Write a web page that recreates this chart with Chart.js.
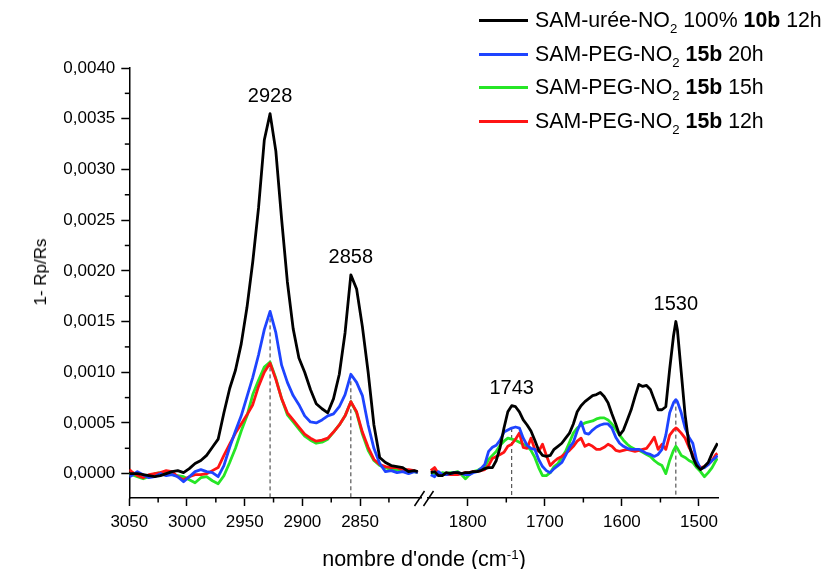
<!DOCTYPE html>
<html>
<head>
<meta charset="utf-8">
<script src="https://cdn.jsdelivr.net/npm/chart.js@4.4.1/dist/chart.umd.min.js"></script>
<style>
  body { margin: 0; background: #fff; }
  #wrap { position: relative; width: 824px; height: 569px; font-family: "Liberation Sans", Arial, sans-serif; color: #000; overflow: hidden; }
  canvas { position: absolute; left: 0; top: 0; }
  #legend { position: absolute; left: 479px; top: 4px; }
  .row { display: flex; align-items: center; height: 33.5px; font-size: 21.3px; white-space: nowrap; }
  .swatch { width: 49px; height: 3px; margin-right: 7px; }
  sub { font-size: 0.62em; vertical-align: -0.45em; line-height: 0; }
  sup { font-size: 0.62em; vertical-align: 0.55em; line-height: 0; }
  #xtitle { position: absolute; left: 0; width: 848px; text-align: center; top: 547px; font-size: 21.5px; }
  #ytitle { position: absolute; left: 41px; top: 272px; font-size: 17px; white-space: nowrap; transform: translate(-50%, -50%) rotate(-90deg); }
</style>
</head>
<body>
<div id="wrap">
  <canvas id="leftChart" width="824" height="569"></canvas>
  <canvas id="rightChart" width="824" height="569"></canvas>
  <div id="legend"></div>
  <div id="ytitle">1- Rp/Rs</div>
  <div id="xtitle">nombre d'onde (cm<sup>-1</sup>)</div>
</div>
<script>
// series labels / colours (legend order)
var seriesLabels = [
  'SAM-urée-NO<sub>2</sub> 100% <b>10b</b> 12h',
  'SAM-PEG-NO<sub>2</sub> <b>15b</b> 20h',
  'SAM-PEG-NO<sub>2</sub> <b>15b</b> 15h',
  'SAM-PEG-NO<sub>2</sub> <b>15b</b> 12h'
];
var seriesColors = ['#000000', '#1e44ff', '#26e626', '#ff1414'];
var seriesOrder = [0, 1, 3, 2]; // red drawn above green

// wavenumbers (cm-1), high-frequency part
var wnLeft = [3050, 3048, 3043, 3038, 3033, 3028, 3023, 3018, 3013, 3008, 3003, 2998, 2993, 2988, 2983, 2978, 2973, 2968, 2963, 2958, 2953, 2948, 2943, 2938, 2933, 2928, 2923, 2918, 2913, 2908, 2903, 2898, 2893, 2888, 2883, 2878, 2873, 2868, 2863, 2858, 2853, 2848, 2843, 2838, 2833, 2828, 2823, 2818, 2813, 2808, 2803, 2800];
var blackLeft = [0, 0, 0, -0.00001, -0.00002, -0.00003, -0.00002, 0, 0.00002, 0.00003, 0.00001, 0.00005, 0.0001, 0.00013, 0.00018, 0.00026, 0.00034, 0.0006, 0.00084, 0.00102, 0.00128, 0.00164, 0.00209, 0.00262, 0.00329, 0.00355, 0.00318, 0.00251, 0.00189, 0.00143, 0.00114, 0.001, 0.00083, 0.00069, 0.00064, 0.0006, 0.00074, 0.00098, 0.00139, 0.00196, 0.00182, 0.00145, 0.001, 0.00048, 0.00016, 0.00011, 0.00008, 0.00007, 0.00006, 0.00002, 0.00003, 0.00002];
var blueLeft = [-0.00003, -0.00002, 0.00002, -0.00001, -0.00004, -0.00003, 0, -0.00002, -0.00001, -0.00003, -0.00008, -0.00003, 0.00002, 0.00004, 0.00002, 0.00001, -0.00003, 0.00008, 0.00026, 0.00042, 0.00057, 0.00076, 0.00095, 0.00117, 0.00142, 0.0016, 0.00139, 0.00107, 0.0009, 0.00077, 0.00068, 0.00057, 0.00051, 0.0005, 0.00053, 0.00057, 0.00059, 0.00066, 0.00078, 0.00098, 0.0009, 0.00077, 0.00048, 0.00025, 0.0001, 0.00002, 0.00003, 0.00001, 0.00002, 0, 0.00002, 0.00001];
var greenLeft = [0, -0.00001, -0.00003, -0.00005, -0.00003, 0, 0.00001, 0, -0.00001, -0.00002, -0.00003, -0.00006, -0.00009, -0.00004, -0.00003, -0.00007, -0.0001, -0.00002, 0.00011, 0.00025, 0.00042, 0.00057, 0.00078, 0.00092, 0.00105, 0.0011, 0.00094, 0.00074, 0.00058, 0.00051, 0.00044, 0.00037, 0.00033, 0.0003, 0.00031, 0.00034, 0.00041, 0.00048, 0.00057, 0.00071, 0.0006, 0.00039, 0.00023, 0.00013, 0.00008, 0.00006, 0.00004, 0.00004, 0.00004, 0.00003, 0.00002, 0.00001];
var redLeft = [0.00004, 0.00002, -0.00002, -0.00004, -0.00001, 0, 0.00001, 0.00003, 0.00002, -0.00003, -0.00006, -0.00003, -0.00001, -0.00001, 0, 0.00003, 0.00006, 0.00018, 0.00029, 0.0004, 0.00049, 0.00058, 0.00068, 0.00086, 0.001, 0.00109, 0.00093, 0.00074, 0.0006, 0.00053, 0.00046, 0.00039, 0.00035, 0.00032, 0.00033, 0.00035, 0.00041, 0.00048, 0.00057, 0.00071, 0.00061, 0.00041, 0.00026, 0.00014, 0.00009, 0.00007, 0.00006, 0.00006, 0.00004, 0.00004, 0.00003, 0.00001];

// wavenumbers (cm-1), low-frequency part
var wnRight = [1848, 1843, 1838, 1833, 1828, 1823, 1818, 1813, 1808, 1803, 1798, 1793, 1788, 1783, 1778, 1773, 1768, 1763, 1758, 1753, 1748, 1743, 1738, 1733, 1728, 1723, 1718, 1713, 1708, 1703, 1698, 1693, 1688, 1683, 1678, 1673, 1668, 1663, 1658, 1653, 1648, 1643, 1638, 1633, 1628, 1623, 1618, 1613, 1608, 1603, 1598, 1593, 1588, 1583, 1578, 1573, 1568, 1563, 1558, 1553, 1548, 1543, 1538, 1533, 1530, 1528, 1523, 1518, 1513, 1508, 1503, 1498, 1493, 1488, 1483, 1478, 1476];
var blackRight = [0.00001, 0.00002, -0.00002, -0.00002, 0.00001, 0, 0.00001, 0.00001, 0, 0.00001, 0.00001, 0.00002, 0.00002, 0.00003, 0.00005, 0.00006, 0.00006, 0.00013, 0.00026, 0.00045, 0.00061, 0.00067, 0.00066, 0.00061, 0.00053, 0.00048, 0.00042, 0.00033, 0.00023, 0.00018, 0.00017, 0.00018, 0.00024, 0.00027, 0.0003, 0.00035, 0.0004, 0.00049, 0.00061, 0.00067, 0.00071, 0.00074, 0.00077, 0.00078, 0.0008, 0.00076, 0.0007, 0.00059, 0.00049, 0.00038, 0.00043, 0.00053, 0.00063, 0.00076, 0.00088, 0.00086, 0.00087, 0.00083, 0.00073, 0.00063, 0.00063, 0.00066, 0.00103, 0.00136, 0.0015, 0.00142, 0.001, 0.00058, 0.00029, 0.00016, 0.00008, 0.00004, 0.00007, 0.00011, 0.0002, 0.00027, 0.0003];
var blueRight = [-0.00001, -0.00003, 0.00002, -0.00001, -0.00001, 0, 0.00001, 0.00001, 0, -0.00001, -0.00001, 0.00001, 0.00002, 0.00005, 0.00009, 0.00022, 0.00026, 0.00028, 0.00033, 0.00041, 0.00043, 0.00045, 0.00046, 0.00045, 0.00035, 0.00028, 0.00025, 0.00024, 0.00014, 0.00007, 0.00003, 0.00001, 0.00005, 0.00008, 0.00011, 0.00018, 0.00026, 0.00031, 0.00042, 0.00051, 0.0004, 0.00039, 0.00043, 0.00046, 0.00048, 0.00049, 0.00049, 0.00045, 0.00036, 0.0003, 0.00027, 0.00025, 0.00024, 0.00024, 0.00024, 0.00022, 0.0002, 0.00019, 0.00017, 0.00019, 0.00024, 0.00038, 0.0006, 0.0007, 0.00073, 0.00071, 0.0006, 0.00045, 0.00036, 0.0003, 0.00013, 0.00005, 0.00006, 0.00009, 0.00013, 0.00016, 0.00018];
var greenRight = [0.00001, 0, -0.00001, 0.00001, 0, 0.00001, 0.00001, 0.00002, -0.00001, -0.00005, -0.00001, 0.00002, 0.00003, 0.00005, 0.00006, 0.00014, 0.00018, 0.00022, 0.00028, 0.00032, 0.00035, 0.00034, 0.00033, 0.00031, 0.00029, 0.00027, 0.00023, 0.00016, 0.00006, -0.00002, -0.00002, 0.00001, 0.00007, 0.0001, 0.00016, 0.00022, 0.00031, 0.0004, 0.00045, 0.00048, 0.0005, 0.00051, 0.00052, 0.00054, 0.00055, 0.00055, 0.00053, 0.00049, 0.00044, 0.00038, 0.00033, 0.00029, 0.00026, 0.00024, 0.00023, 0.00021, 0.00019, 0.00017, 0.00013, 0.0001, 0.00008, 0, 0.00013, 0.00023, 0.00027, 0.00025, 0.00018, 0.00016, 0.00013, 0.00011, 0.00006, 0.00002, -0.00003, 0.00001, 0.00006, 0.00013, 0.00015];
var redRight = [0.00003, 0.00006, 0, -0.00001, -0.00001, -0.00001, -0.00001, -0.00001, 0, 0.00001, 0.00001, 0.00002, 0.00002, 0.00003, 0.00004, 0.00008, 0.00015, 0.00017, 0.00019, 0.00021, 0.00027, 0.00029, 0.00034, 0.0004, 0.00026, 0.00025, 0.00035, 0.00024, 0.00022, 0.00029, 0.00018, 0.00008, 0.00012, 0.00015, 0.00017, 0.0002, 0.00023, 0.00027, 0.00032, 0.00035, 0.00027, 0.00029, 0.00027, 0.00024, 0.00024, 0.00026, 0.00029, 0.00027, 0.00023, 0.00022, 0.00023, 0.00024, 0.00023, 0.00022, 0.00023, 0.00024, 0.00025, 0.0003, 0.00036, 0.00024, 0.00029, 0.00024, 0.00038, 0.00043, 0.00045, 0.00044, 0.0004, 0.00035, 0.00026, 0.00019, 0.0001, 0.00006, 0.00007, 0.00009, 0.00013, 0.00019, 0.0002];

// axis ticks
var xTicksLeft = [3050, 3000, 2950, 2900, 2850];
var xMinorLeft = [3025, 2975, 2925, 2875, 2825];
var xTicksRight = [1800, 1700, 1600, 1500];
var xMinorRight = [1750, 1650, 1550];
var yTicks = [0, 0.0005, 0.001, 0.0015, 0.002, 0.0025, 0.003, 0.0035, 0.004];
var yMinor = [0.00025, 0.00075, 0.00125, 0.00175, 0.00225, 0.00275, 0.00325, 0.00375];

// marked peaks
var peakWn = [2928, 2858, 1743, 1530];
var peakText = ['2928', '2858', '1743', '1530'];

var FONT = '"Liberation Sans", Arial, sans-serif';

// legend
var legendEl = document.getElementById('legend');
seriesLabels.forEach(function (lab, i) {
  var row = document.createElement('div');
  row.className = 'row';
  row.innerHTML = '<span class="swatch" style="background:' + seriesColors[i] + '"></span><span>' + lab + '</span>';
  legendEl.appendChild(row);
});

function makeSets(wn, series) {
  return series.map(function (vals, i) {
    return {
      label: seriesLabels[i].replace(/<[^>]+>/g, ''),
      data: wn.map(function (x, k) { return { x: x, y: vals[k] }; }),
      borderColor: seriesColors[i],
      borderWidth: 2.8,
      borderJoinStyle: 'round',
      pointRadius: 0,
      tension: 0,
      order: seriesOrder[i]
    };
  });
}

// minor ticks, dashed markers, peak labels, axis break
var extras = {
  id: 'extras',
  beforeDatasetsDraw: function (chart, args, opts) {
    var ctx = chart.ctx, xs = chart.scales.x, ys = chart.scales.y, area = chart.chartArea;
    ctx.save();
    ctx.strokeStyle = '#333';
    ctx.lineWidth = 1;
    ctx.setLineDash([4, 3]);
    peakWn.forEach(function (wn) {
      var k = opts.wn.indexOf(wn);
      if (k < 0) return;
      var px = xs.getPixelForValue(wn);
      ctx.beginPath();
      ctx.moveTo(px, ys.getPixelForValue(opts.blue[k]));
      ctx.lineTo(px, area.bottom);
      ctx.stroke();
    });
    ctx.restore();
  },
  afterDraw: function (chart, args, opts) {
    var ctx = chart.ctx, xs = chart.scales.x, ys = chart.scales.y, area = chart.chartArea;
    ctx.save();
    ctx.strokeStyle = '#000';
    ctx.lineWidth = 1.5;
    opts.xMinor.forEach(function (v) {
      var px = xs.getPixelForValue(v);
      ctx.beginPath();
      ctx.moveTo(px, area.bottom);
      ctx.lineTo(px, area.bottom + 4.5);
      ctx.stroke();
    });
    if (opts.yMinor) {
      opts.yMinor.forEach(function (v) {
        var py = ys.getPixelForValue(v);
        ctx.beginPath();
        ctx.moveTo(area.left, py);
        ctx.lineTo(area.left - 4.5, py);
        ctx.stroke();
      });
    }
    if (opts.brk) {
      [419.5, 428.5].forEach(function (cx) {
        ctx.beginPath();
        ctx.moveTo(cx - 5, area.bottom + 8);
        ctx.lineTo(cx + 5, area.bottom - 7);
        ctx.stroke();
      });
    }
    // peak labels above the black curve
    ctx.fillStyle = '#000';
    ctx.font = '20px ' + FONT;
    ctx.textAlign = 'center';
    ctx.textBaseline = 'middle';
    peakWn.forEach(function (wn, i) {
      var k = opts.wn.indexOf(wn);
      if (k < 0) return;
      ctx.fillText(peakText[i], xs.getPixelForValue(wn), ys.getPixelForValue(opts.black[k]) - 17);
    });
    ctx.restore();
  }
};

function xScale(min, max, ticks) {
  return {
    type: 'linear',
    reverse: true,
    min: min,
    max: max,
    afterBuildTicks: function (s) { s.ticks = ticks.map(function (v) { return { value: v }; }); },
    afterFit: function (s) { s.height = 71; },
    grid: { drawOnChartArea: false, drawTicks: true, tickLength: 8, tickColor: '#000', tickWidth: 1.5 },
    border: { display: true, color: '#000', width: 1.5 },
    ticks: {
      autoSkip: false, maxRotation: 0, padding: 6, color: '#000',
      font: { family: FONT, size: 17 },
      callback: function (v) { return String(v); }
    }
  };
}

function yScale(show) {
  return {
    display: show,
    min: -0.00024,
    max: 0.004,
    afterBuildTicks: function (s) { s.ticks = yTicks.map(function (v) { return { value: v }; }); },
    afterFit: function (s) { s.width = show ? 129.3 : 0; },
    grid: { drawOnChartArea: false, drawTicks: true, tickLength: 8, tickColor: '#000', tickWidth: 1.5 },
    border: { display: true, color: '#000', width: 1.5 },
    ticks: {
      padding: 6, color: '#000',
      font: { family: FONT, size: 17 },
      callback: function (v) { return v.toFixed(4).replace('.', ','); }
    }
  };
}

var common = {
  responsive: false,
  animation: false,
  events: [],
  plugins: { legend: { display: false }, tooltip: { enabled: false } }
};

window.chartLeft = new Chart(document.getElementById('leftChart'), {
  type: 'line',
  data: { datasets: makeSets(wnLeft, [blackLeft, blueLeft, greenLeft, redLeft]) },
  plugins: [extras],
  options: Object.assign({}, common, {
    layout: { padding: { top: 68, left: 0, right: 824 - 421, bottom: 0 } },
    plugins: Object.assign({}, common.plugins, {
      extras: { wn: wnLeft, black: blackLeft, blue: blueLeft, xMinor: xMinorLeft, yMinor: yMinor, brk: false }
    }),
    scales: { x: xScale(2797.2, 3050, xTicksLeft), y: yScale(true) }
  })
});

window.chartRight = new Chart(document.getElementById('rightChart'), {
  type: 'line',
  data: { datasets: makeSets(wnRight, [blackRight, blueRight, greenRight, redRight]) },
  plugins: [extras],
  options: Object.assign({}, common, {
    layout: { padding: { top: 68, left: 428, right: 824 - 718, bottom: 0 } },
    plugins: Object.assign({}, common.plugins, {
      extras: { wn: wnRight, black: blackRight, blue: blueRight, xMinor: xMinorRight, yMinor: null, brk: true }
    }),
    scales: { x: xScale(1475.3, 1851.6, xTicksRight), y: yScale(false) }
  })
});
</script>
</body>
</html>
